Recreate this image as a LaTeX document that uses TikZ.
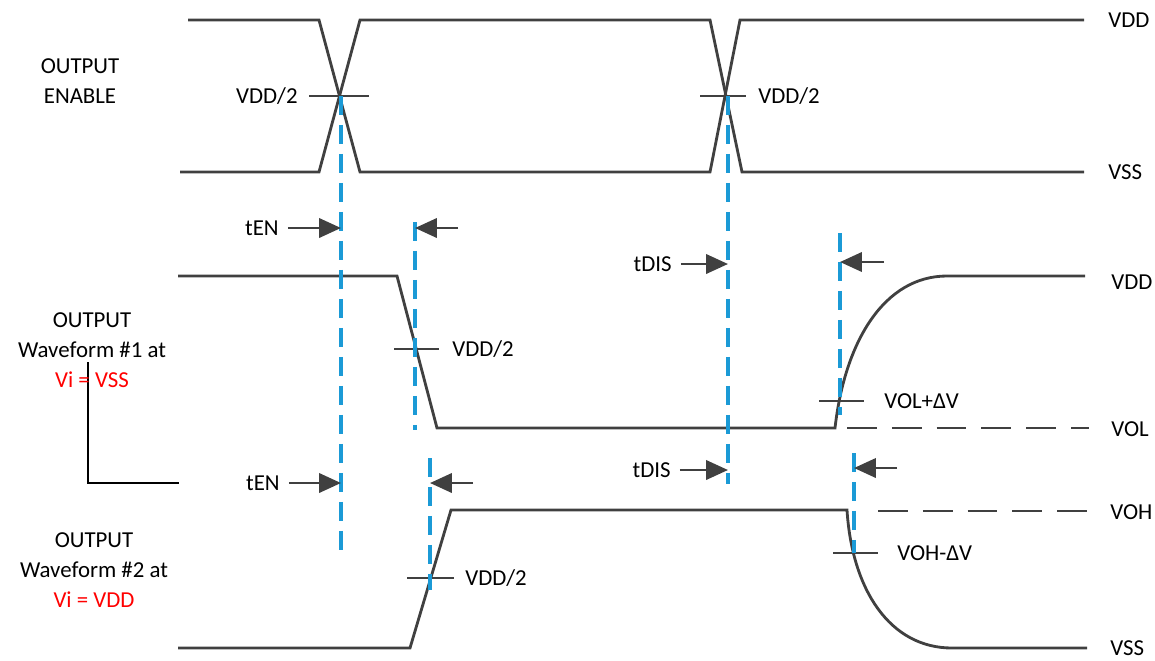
\documentclass[tikz,border=0pt]{standalone}
\usepackage{fontspec}
\setmainfont{Carlito}
\usetikzlibrary{arrows.meta}
\definecolor{wavegray}{HTML}{404040}
\definecolor{guideblue}{HTML}{1B9AD6}
\tikzset{
	sig/.style={draw=wavegray, line width=1.6pt},
	guide/.style={draw=guideblue, line width=1.8pt, dash pattern=on 11pt off 5.5pt},
	level/.style={draw=wavegray, line width=1.6pt, dash pattern=on 17pt off 8.5pt},
	bracket/.style={draw=black, line width=0.6pt},
	arr/.style={draw=wavegray, line width=1.6pt, -{Triangle[length=12.5pt,width=11pt]}},
	lbl/.style={font=\fontsize{13}{16}\selectfont, inner sep=0pt, text height=8.4pt, text depth=0pt},
}
\begin{document}
\begin{tikzpicture}[x=0.02cm, y=-0.02cm]
	\useasboundingbox (0,0) rectangle (1155,660);
	\draw[sig] (188,20) -- (319,20) -- (360,172) -- (710,172) -- (740,20) -- (1084,20);
	\draw[sig] (180,172) -- (319,172) -- (360,20) -- (710,20) -- (742,172) -- (1084,172);
	\draw[sig] (309,96) -- (369,96);
	\draw[sig] (700,96) -- (746,96);
	\draw[sig] (178,276) -- (397,276) -- (437,428) -- (835,428) .. controls (845,340) and (885,276) .. (947,276) -- (1085,276);
	\draw[level] (847,428) -- (1089,428);
	\draw[sig] (394,349) -- (439,349);
	\draw[sig] (819,401) -- (864,401);
	\draw[sig] (178,648) -- (410,648) -- (451,510) -- (847,510) .. controls (852,590) and (890,648) .. (952,648) -- (1087,648);
	\draw[level] (878,511) -- (1089,511);
	\draw[sig] (407,578) -- (454,578);
	\draw[sig] (833,553) -- (878,553);
	\draw[bracket] (88,362) -- (88,483) -- (179,483);

	\coordinate (enA) at (341,96);
	\coordinate (enB) at (415,222);
	\coordinate (disA) at (728,96);
	\coordinate (disB) at (840,233);
	\coordinate (enC) at (430,458);
	\coordinate (disC) at (854,453);
	\draw[guide] (enA) -- (341,553);
	\draw[guide] (enB) -- (415,430);
	\draw[guide] (disA) -- (728,484);
	\draw[guide] (disB) -- (840,415);
	\draw[guide] (enC) -- (430,590);
	\draw[guide] (disC) -- (854,553);

	\node[lbl] (oe1) at (80,66) {OUTPUT};
	\node[lbl] (oe2) at (80,96) {ENABLE};
	\node[lbl] (wa1) at (92,320) {OUTPUT};
	\node[lbl] (wa2) at (92,350) {Waveform \#1 at};
	\node[lbl, text=red] (wa3) at (92,380) {Vi = VSS};
	\node[lbl] (wb1) at (94,540) {OUTPUT};
	\node[lbl] (wb2) at (94,570) {Waveform \#2 at};
	\node[lbl, text=red] (wb3) at (94,600) {Vi = VDD};

	\node[lbl, anchor=west] (vdd1) at (1108,20) {VDD};
	\node[lbl, anchor=west] (vss1) at (1108,172) {VSS};
	\node[lbl, anchor=west] (vdd2) at (1111,282) {VDD};
	\node[lbl, anchor=west] (vol) at (1111,429) {VOL};
	\node[lbl, anchor=west] (voh) at (1110,512) {VOH};
	\node[lbl, anchor=west] (vss2) at (1110,648) {VSS};

	\node[lbl, anchor=east] (half1) at (298,96) {VDD/2};
	\node[lbl, anchor=west] (half2) at (758,96) {VDD/2};
	\node[lbl, anchor=west] (half3) at (452,349) {VDD/2};
	\node[lbl, anchor=west] (volp) at (884,401) {VOL+ΔV};
	\node[lbl, anchor=west] (half4) at (465,578) {VDD/2};
	\node[lbl, anchor=west] (vohm) at (897,553) {VOH-ΔV};

	\node[lbl, anchor=east] (tenA) at (279,228) {tEN};
	\node[lbl, anchor=east] (tdisA) at (672,264) {tDIS};
	\node[lbl, anchor=east] (tenB) at (280,483) {tEN};
	\node[lbl, anchor=east] (tdisB) at (671,470) {tDIS};
	\coordinate (backA) at (458,228);
	\coordinate (backB) at (884,262);
	\coordinate (backC) at (473,483);
	\coordinate (backD) at (897,468);
	\draw[arr] ([xshift=5pt]tenA.east) -- (tenA.east -| enA);
	\draw[arr] ([xshift=5pt]tdisA.east) -- (tdisA.east -| disA);
	\draw[arr] ([xshift=5pt]tenB.east) -- (tenB.east -| enA);
	\draw[arr] ([xshift=5pt]tdisB.east) -- (tdisB.east -| disA);
	\draw[arr] (backA) -- (backA -| enB);
	\draw[arr] (backB) -- (backB -| disB);
	\draw[arr] (backC) -- (backC -| enC);
	\draw[arr] (backD) -- (backD -| disC);
\end{tikzpicture}
\end{document}
